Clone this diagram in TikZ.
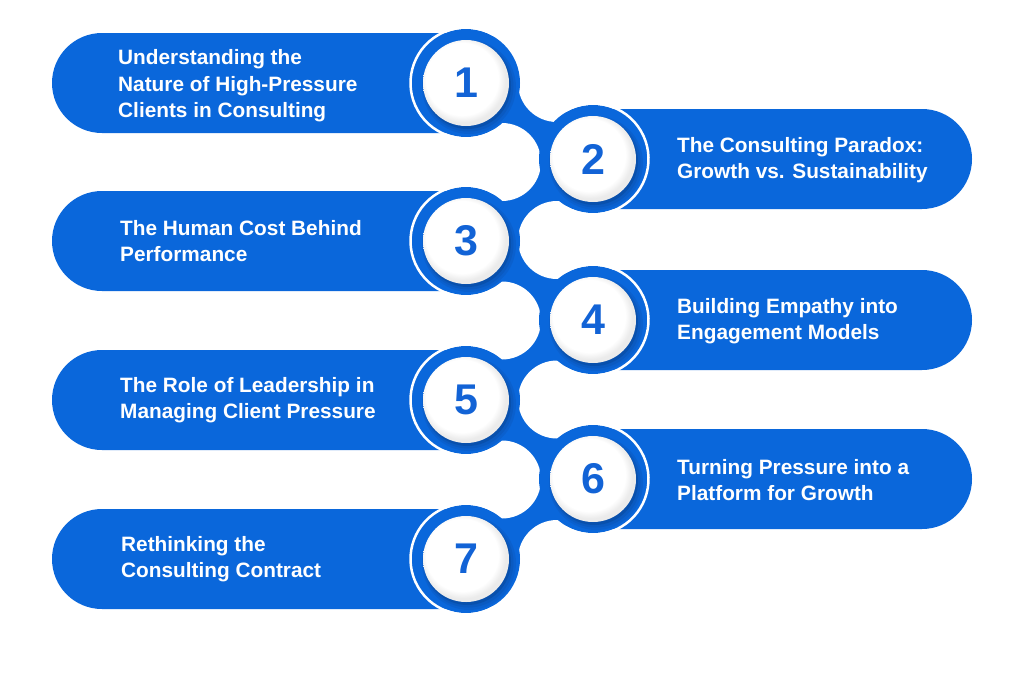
\documentclass[tikz,border=0pt]{standalone}
\usepackage{fontspec}
\setmainfont{Liberation Sans}
\definecolor{mainblue}{HTML}{0A67DB}
\definecolor{numblue}{HTML}{1263D6}
\definecolor{ringshade}{HTML}{0A4FAA}
\pgfdeclareradialshading{discshade}{\pgfpoint{-4bp}{4bp}}{color(0bp)=(white); color(21bp)=(white); color(25bp)=(black!8); color(50bp)=(black!8)}
\begin{document}
\begin{tikzpicture}[x=1pt,y=-1pt,
  bridge/.style={draw=mainblue, line width=70pt, line join=round},
  gapblob/.style={fill=white},
  pillshape/.style={fill=mainblue},
  ringshape/.style={fill=mainblue},
  outline/.style={draw=white, line width=2.5pt},
  num/.style={font=\fontsize{43}{43}\selectfont\bfseries, text=numblue, inner sep=0pt},
  lbl/.style={font=\fontsize{20.8}{26.5}\selectfont\bfseries, text=white, align=left, inner sep=0pt, anchor=west}]
\useasboundingbox (0,0) rectangle (1024,683);
\fill[white] (0,0) rectangle (1024,683);

\coordinate (c1) at (466,83);
\coordinate (c2) at (593,159);
\coordinate (c3) at (466,241);
\coordinate (c4) at (593,320);
\coordinate (c5) at (466,400);
\coordinate (c6) at (593,479);
\coordinate (c7) at (466,559);

% spine bridges
\draw[bridge] (c1) -- (c2) -- (c3) -- (c4) -- (c5) -- (c6) -- (c7);

% white gaps carving the necks
\foreach \p in {(502,162),(502,320.5),(502,479.5),(557,83),(557,240),(557,399.5),(557,559)}
  \fill[gapblob] \p circle[radius=39];

% left pills
\foreach \i in {1,3,5,7}
  \fill[pillshape] (c\i) ++(0,-50) -- ++(-364,0) arc[start angle=-90, end angle=-270, radius=50] -- ++(364,0) -- cycle;
% right pills
\foreach \i in {2,4,6}
  \fill[pillshape] (c\i) ++(0,-50) -- ++(329,0) arc[start angle=-90, end angle=90, radius=50] -- ++(-329,0) -- cycle;

% rings
\foreach \i in {1,...,7}
  \fill[ringshape] (c\i) circle[radius=54];
\foreach \i in {1,3,5,7}
  \draw[outline] (c\i) ++(60:55.5) arc[start angle=60, end angle=300, radius=55.5];
\foreach \i in {2,4,6}
  \draw[outline] (c\i) ++(-120:55.5) arc[start angle=-120, end angle=120, radius=55.5];

% inner shadows and white discs
\foreach \i in {1,...,7}{
  \fill[ringshade, opacity=0.25] ([shift={(3,4)}]c\i) circle[radius=47];
  \fill[ringshade, opacity=0.35] ([shift={(2.5,3.5)}]c\i) circle[radius=45];
  \fill[black, opacity=0.10] ([shift={(1.5,2.5)}]c\i) circle[radius=43.5];
  \shade[shading=discshade] (c\i) circle[radius=43];
  \node[num] (n\i) at (c\i) {\i};
}

% labels
\node[lbl] (t1) at (118,86) {Understanding the\\Nature of High-Pressure\\Clients in Consulting};
\node[lbl] (t2) at (677,160) {The Consulting Paradox:\\Growth vs. Sustainability};
\node[lbl] (t3) at (120,241) {The Human Cost Behind\\Performance};
\node[lbl] (t4) at (677,321) {Building Empathy into\\Engagement Models};
\node[lbl] (t5) at (120,400) {The Role of Leadership in\\Managing Client Pressure};
\node[lbl] (t6) at (677,480) {Turning Pressure into a\\Platform for Growth};
\node[lbl] (t7) at (121,559) {Rethinking the\\Consulting Contract};
\end{tikzpicture}
\end{document}
